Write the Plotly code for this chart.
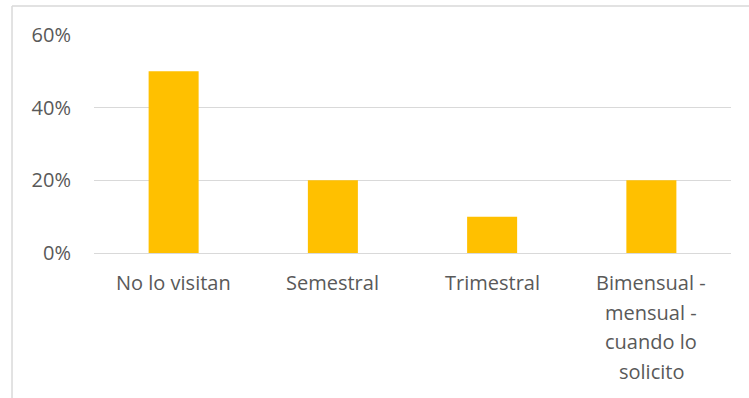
import plotly.graph_objects as go

categories = ["No lo visitan", "Semestral", "Trimestral", "Bimensual - mensual - cuando lo solicito"]
label_lines = [
    ["No lo visitan"],
    ["Semestral"],
    ["Trimestral"],
    ["Bimensual -", "mensual -", "cuando lo", "solicito"],
]
values = [0.50, 0.20, 0.10, 0.20]
tick_vals = [0, 0.2, 0.4, 0.6]
tick_text = ["0%", "20%", "40%", "60%"]

font_family = "Open Sans, sans-serif"
font_size = 20
text_color = "#595959"
line_gap = 29.5

fig = go.Figure(
    go.Bar(
        x=categories,
        y=values,
        marker=dict(color="#FFC000", line=dict(width=0)),
        hoverinfo="skip",
    )
)

# category labels, one annotation per line so the line spacing can be set
annotations = []
for cat, lines in zip(categories, label_lines):
    for i, line in enumerate(lines):
        annotations.append(dict(
            x=cat, y=0, xref="x", yref="y",
            text=line, showarrow=False,
            xanchor="center", yanchor="top",
            yshift=-14 - line_gap * i,
            font=dict(family=font_family, size=font_size, color=text_color),
        ))

fig.update_layout(
    width=749,
    height=398,
    margin=dict(l=94, r=18, t=35, b=145),
    paper_bgcolor="white",
    plot_bgcolor="white",
    bargap=0.686,
    showlegend=False,
    font=dict(family=font_family, size=font_size, color=text_color),
    annotations=annotations,
    shapes=[
        # chart frame: left and top edges
        dict(type="line", xref="paper", yref="paper", x0=-0.1287, x1=-0.1287, y0=1.133, y1=-0.7,
             line=dict(color="#d9d9d9", width=1.5)),
        dict(type="line", xref="paper", yref="paper", x0=-0.1287, x1=1.05, y0=1.133, y1=1.133,
             line=dict(color="#d9d9d9", width=1.5)),
    ],
)

fig.update_xaxes(
    showgrid=False,
    showline=False,
    ticks="",
    showticklabels=False,
)

fig.update_yaxes(
    range=[0, 0.6],
    tickvals=tick_vals,
    ticktext=tick_text,
    showgrid=True,
    gridcolor="#d9d9d9",
    gridwidth=1,
    zeroline=True,
    zerolinecolor="#d9d9d9",
    zerolinewidth=1,
    showline=False,
    ticks="",
    ticklabelstandoff=22,
    tickfont=dict(family=font_family, size=font_size, color=text_color),
)

fig.write_html("out.html")
